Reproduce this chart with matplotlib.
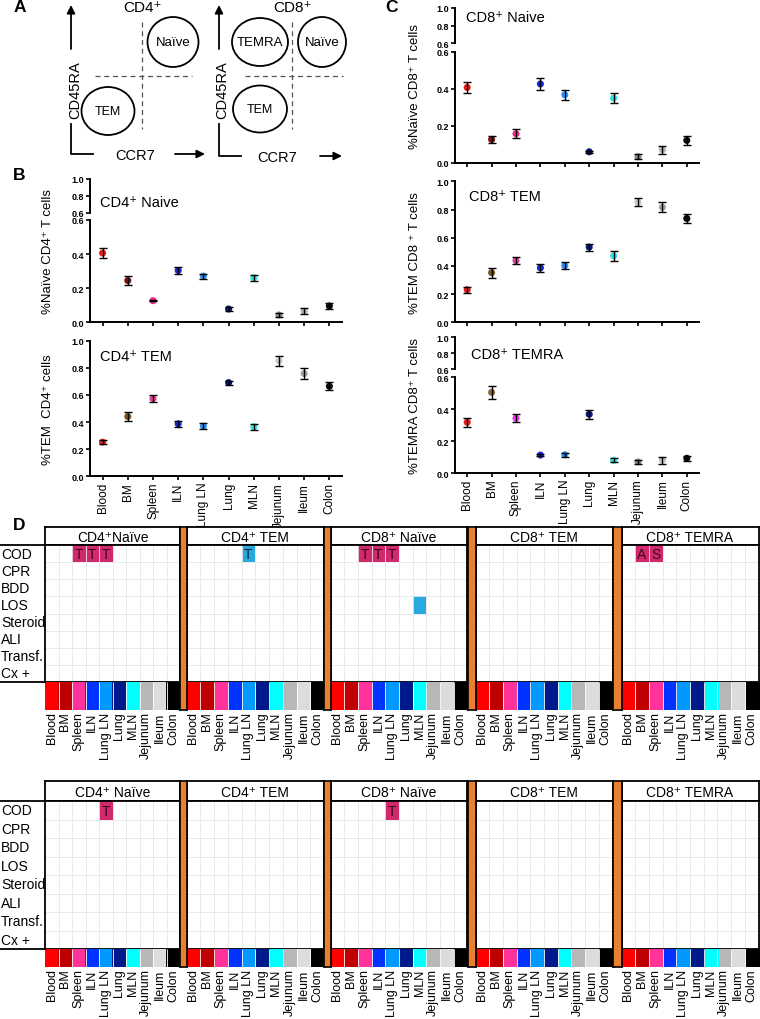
import numpy as np
import matplotlib
matplotlib.use('Agg')
import matplotlib.pyplot as plt
from matplotlib.patches import Ellipse
from matplotlib.colors import ListedColormap
from matplotlib.lines import Line2D

plt.rcParams['font.family'] = ['Liberation Sans', 'DejaVu Sans']

W, H = 760, 1020

# ---- data ----
tissues = ['Blood', 'BM', 'Spleen', 'ILN', 'Lung LN', 'Lung', 'MLN', 'Jejunum', 'Ileum', 'Colon']

cd4_naive = [0.406, 0.245, 0.127, 0.304, 0.271, 0.078, 0.261, 0.043, 0.066, 0.096]
cd4_naive_err = [0.027, 0.025, 0.004, 0.020, 0.015, 0.010, 0.018, 0.012, 0.016, 0.016]
cd4_tem = [0.252, 0.441, 0.573, 0.387, 0.370, 0.691, 0.365, 0.852, 0.758, 0.664]
cd4_tem_err = [0.015, 0.032, 0.027, 0.020, 0.020, 0.015, 0.020, 0.037, 0.037, 0.028]
cd8_naive = [0.408, 0.126, 0.157, 0.427, 0.368, 0.059, 0.350, 0.032, 0.070, 0.121]
cd8_naive_err = [0.032, 0.021, 0.025, 0.032, 0.027, 0.004, 0.029, 0.013, 0.022, 0.023]
cd8_tem = [0.231, 0.352, 0.438, 0.386, 0.402, 0.533, 0.471, 0.852, 0.816, 0.736]
cd8_tem_err = [0.021, 0.036, 0.026, 0.027, 0.026, 0.025, 0.033, 0.030, 0.037, 0.030]
cd8_temra = [0.317, 0.504, 0.342, 0.112, 0.114, 0.367, 0.079, 0.069, 0.081, 0.092]
cd8_temra_err = [0.029, 0.040, 0.026, 0.004, 0.012, 0.028, 0.012, 0.015, 0.022, 0.015]

clinical = ['COD', 'CPR', 'BDD', 'LOS', 'Steroid', 'ALI', 'Transf.', 'Cx +']
groups_top = ['CD4⁺Naïve', 'CD4⁺ TEM', 'CD8⁺ Naïve', 'CD8⁺ TEM', 'CD8⁺ TEMRA']
groups_bottom = ['CD4⁺ Naïve', 'CD4⁺ TEM', 'CD8⁺ Naïve', 'CD8⁺ TEM', 'CD8⁺ TEMRA']
# (group index, clinical variable, tissue, letter, sign)
hits_top = [(0, 'COD', 'Spleen', 'T', 1), (0, 'COD', 'ILN', 'T', 1), (0, 'COD', 'Lung LN', 'T', 1),
            (1, 'COD', 'Lung LN', 'T', -1),
            (2, 'COD', 'Spleen', 'T', 1), (2, 'COD', 'ILN', 'T', 1), (2, 'COD', 'Lung LN', 'T', 1),
            (2, 'LOS', 'MLN', '', -1),
            (4, 'COD', 'BM', 'A', 1), (4, 'COD', 'Spleen', 'S', 1)]
hits_bottom = [(0, 'COD', 'Lung LN', 'T', 1), (2, 'COD', 'Lung LN', 'T', 1)]

# ---- styles ----
dot_naive = ['#e41e1e', '#7a1414', '#f0287f', '#1c28d8', '#2f8ef0', '#0c1870', '#35e0e0', '#8a8a8a', '#b4b4b4', '#0a0a0a']
dot_mem = ['#e41e1e', '#7a5520', '#e0409a', '#1c28d8', '#2f8ef0', '#0c1870', '#35e0e0', '#c8c8c8', '#a0a0a0', '#0a0a0a']
dot_temra = ['#e41e1e', '#8a6a3a', '#ee33ee', '#1c28d8', '#2f8ef0', '#0c1870', '#35e0e0', '#8a8a8a', '#c0c0c0', '#0a0a0a']
strip_colors = ['#ff0000', '#c00000', '#ff3399', '#0033ff', '#0099ff', '#001a8c', '#00ffff', '#b7b7b7', '#dcdcdc', '#000000']
hit_colors = ['#d2286e', '#28aae1']
orange = '#e8802f'

fig = plt.figure(figsize=(W / 100, H / 100), dpi=100)


def rect(x0, y0, x1, y1):
    return [x0 / W, 1 - y1 / H, (x1 - x0) / W, (y1 - y0) / H]


def ftext(x, y, s, **kw):
    fig.text(x / W, 1 - y / H, s, **kw)


# ---- panel A: gating schematic ----
axA = fig.add_axes(rect(0, 0, 370, 170))
axA.set_xlim(0, 370)
axA.set_ylim(170, 0)
axA.axis('off')
lw = 1.3
for vx, cx, ccr_x, arr0, arr1, title, tx, dashx, dh0, dh1, vy0 in [
        (71, 75, 135, 175, 205, 'CD4⁺', 143, 142, 95, 192, 155),
        (219, 222, 277, 320, 342, 'CD8⁺', 293, 292, 245, 343, 157)]:
    axA.annotate('', xy=(vx, 6), xytext=(vx, 50),
                 arrowprops=dict(arrowstyle='-|>', lw=lw, color='k', mutation_scale=12, shrinkA=0, shrinkB=0))
    axA.plot([vx, vx, vx + 22], [125, vy0, vy0], color='k', lw=lw)
    axA.text(cx, 90, 'CD45RA', rotation=90, ha='center', va='center', fontsize=10.5)
    axA.text(ccr_x, vy0 + 1, 'CCR7', ha='center', va='center', fontsize=10.5)
    axA.annotate('', xy=(arr1, vy0), xytext=(arr0, vy0),
                 arrowprops=dict(arrowstyle='-|>', lw=lw, color='k', mutation_scale=12, shrinkA=0, shrinkB=0))
    axA.text(tx, 8, title, ha='center', va='center', fontsize=11)
    axA.plot([dashx, dashx], [23, 130], color='#555555', lw=0.9, ls=(0, (4, 3)))
    axA.plot([dh0, dh1], [77, 77], color='#555555', lw=0.9, ls=(0, (4, 3)))

for (cx, cy, w, h, lab, fs) in [(173, 43, 51, 50, 'Naïve', 9.5), (108, 112, 53, 48, 'TEM', 9),
                                (260, 43, 56, 48, 'TEMRA', 9.5), (322, 43, 48, 50, 'Naïve', 9.5),
                                (260, 110, 54, 47, 'TEM', 9)]:
    axA.add_patch(Ellipse((cx, cy), w, h, fill=False, lw=lw, ec='k'))
    axA.text(cx, cy, lab, ha='center', va='center', fontsize=fs)


# ---- panels B / C: dot plots ----
def dot_panel(xl, xr, yb, vals, errs, colors, ylabel, ylab_x, title, title_xy, show_labels):
    x = np.arange(len(tissues))
    if len(yb) == 4:
        up = fig.add_axes(rect(xl, yb[0], xr, yb[1]))
        up.set_xlim(-0.5, 9.5)
        up.set_ylim(0.6, 1.0)
        up.patch.set_alpha(0)
        for s in ['top', 'right', 'bottom']:
            up.spines[s].set_visible(False)
        up.spines['left'].set_linewidth(1.4)
        up.set_xticks([])
        up.set_yticks([0.6, 0.8, 1.0], labels=['0.6', '0.8', '1.0'], fontsize=6.5, fontweight='bold')
        up.tick_params(axis='y', length=3, width=1.2, pad=1)
        lo = fig.add_axes(rect(xl, yb[2], xr, yb[3]))
        lo.set_ylim(0, 0.6)
        ticks = [0.0, 0.2, 0.4, 0.6]
        ytop = yb[0]
    else:
        lo = fig.add_axes(rect(xl, yb[0], xr, yb[1]))
        lo.set_ylim(0, 1.0)
        ticks = [0.0, 0.2, 0.4, 0.6, 0.8, 1.0]
        ytop = yb[0]
    lo.set_xlim(-0.5, 9.5)
    lo.patch.set_alpha(0)
    for s in ['top', 'right']:
        lo.spines[s].set_visible(False)
    for s in ['left', 'bottom']:
        lo.spines[s].set_linewidth(1.4)
    lo.set_yticks(ticks, labels=['%.1f' % t for t in ticks], fontsize=6.5, fontweight='bold')
    if show_labels:
        lo.set_xticks(x, tissues, rotation=90, fontsize=8.5)
    else:
        lo.set_xticks(x, [''] * len(x))
    lo.tick_params(length=3, width=1.2, pad=1)
    lo.scatter(x, vals, s=26, c=colors, zorder=2, clip_on=False, linewidths=0)
    lo.errorbar(x, vals, yerr=errs, fmt='none', ecolor='k', elinewidth=1.0, capsize=2.8,
                capthick=1.0, zorder=3, clip_on=False)
    ftext(ylab_x, (ytop + yb[-1]) / 2, ylabel, rotation=90, ha='center', va='center', fontsize=9.5)
    ftext(title_xy[0], title_xy[1], title, ha='left', va='center', fontsize=10.5)


dot_panel(90, 342, (180, 213.7, 221, 323.3), cd4_naive, cd4_naive_err, dot_naive,
          '%Naïve CD4⁺ T cells', 48, 'CD4⁺ Naive', (100, 203), False)
dot_panel(90, 342, (341.7, 477.3), cd4_tem, cd4_tem_err, dot_mem,
          '%TEM  CD4⁺ cells', 48, 'CD4⁺ TEM', (100, 357), True)
dot_panel(455, 699, (9, 44, 53, 163.7), cd8_naive, cd8_naive_err, dot_naive,
          '%Naïve CD8⁺ T cells', 415, 'CD8⁺ Naive', (466, 18), False)
dot_panel(455, 699, (182.3, 323.3), cd8_tem, cd8_tem_err, dot_mem,
          '%TEM CD8 ⁺ T cells', 415, 'CD8⁺ TEM', (469, 197), False)
dot_panel(455, 699, (338, 370, 378, 474), cd8_temra, cd8_temra_err, dot_temra,
          '%TEMRA CD8⁺ T cells', 415, 'CD8⁺ TEMRA', (471, 355), True)

# ---- panel D: heatmaps ----
panel_x = [(45, 180), (186.5, 324), (330.5, 467.5), (475.5, 612.5), (621.5, 758.5)]
bars_x = [(180, 186.5), (324, 330.5), (467.5, 475.5), (612.5, 621.5)]
hit_cmap = ListedColormap(hit_colors)
strip_cmap = ListedColormap(strip_colors)


def heat_block(hdr_top, grid_top, grid_bot, strip_bot, titles, hits):
    nr, nc = len(clinical), len(tissues)
    for g, (x0, x1) in enumerate(panel_x):
        hd = fig.add_axes(rect(x0, hdr_top, x1, grid_top))
        hd.set_xticks([])
        hd.set_yticks([])
        for sp in hd.spines.values():
            sp.set_linewidth(1.3)
        hd.text(0.5, 0.45, titles[g], ha='center', va='center', fontsize=10, transform=hd.transAxes)

        gd = fig.add_axes(rect(x0, grid_top, x1, grid_bot))
        mat = np.full((nr, nc), np.nan)
        for gi, row, tis, letter, sign in hits:
            if gi == g:
                r, c = clinical.index(row), tissues.index(tis)
                mat[r, c] = 0 if sign > 0 else 1
                gd.text(c + 0.5, r + 0.55, letter, ha='center', va='center', fontsize=10,
                        color='#3a0818' if sign > 0 else '#0a2a40', zorder=4)
        gd.pcolormesh(np.ma.masked_invalid(mat), cmap=hit_cmap, vmin=-0.5, vmax=1.5, zorder=1)
        gd.vlines(np.arange(1, nc), 0, nr, color='#e6e6e6', lw=0.6, zorder=2)
        gd.hlines(np.arange(1, nr), 0, nc, color='#e6e6e6', lw=0.6, zorder=2)
        gd.set_xlim(0, nc)
        gd.set_ylim(nr, 0)
        gd.set_xticks([])
        gd.set_yticks([])
        for sp in gd.spines.values():
            sp.set_linewidth(1.3)

        st = fig.add_axes(rect(x0, grid_bot, x1, strip_bot))
        st.imshow([np.arange(nc)], cmap=strip_cmap, aspect='auto', extent=(0, nc, 1, 0))
        st.vlines(np.arange(1, nc), 0, 1, color='white', lw=0.6)
        st.set_xlim(0, nc)
        st.set_xticks(np.arange(nc) + 0.5, tissues, rotation=90, fontsize=9)
        st.set_yticks([])
        st.tick_params(length=0, pad=1)
        for sp in st.spines.values():
            sp.set_visible(False)

    for a, b in bars_x:
        ob = fig.add_axes(rect(a, hdr_top, b, strip_bot))
        ob.set_facecolor(orange)
        ob.set_xticks([])
        ob.set_yticks([])
        for sp in ob.spines.values():
            sp.set_linewidth(1.2)

    step = (grid_bot - grid_top) / len(clinical)
    for i, name in enumerate(clinical):
        ftext(1, grid_top + (i + 0.5) * step, name, ha='left', va='center', fontsize=10)
    for yy in (grid_top, grid_bot):
        fig.add_artist(Line2D([0, 45 / W], [1 - yy / H] * 2, color='k', lw=1.3))


heat_block(528, 546, 683, 711, groups_top, hits_top)
heat_block(782, 802, 950, 968, groups_bottom, hits_bottom)

# ---- panel letters ----
for lab, x, y in [('A', 20, 8), ('B', 19, 176), ('C', 391, 8), ('D', 19, 526)]:
    ftext(x, y, lab, ha='center', va='center', fontsize=12.5, fontweight='bold')

fig.savefig('out.png', dpi=100)
